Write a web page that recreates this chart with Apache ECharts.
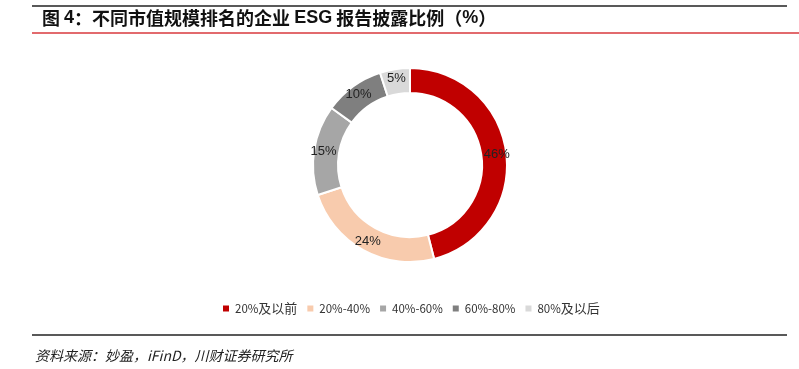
<!DOCTYPE html>
<html><head><meta charset="utf-8">
<script src="https://cdn.jsdelivr.net/npm/echarts@6/dist/echarts.min.js"></script>
<style>html,body{margin:0;padding:0;background:#fff}#c{width:799px;height:369px}</style>
</head><body><div id="c"></div>
<script>
var categories = ['20%及以前', '20%-40%', '40%-60%', '60%-80%', '80%及以后'];
var values = [46, 24, 15, 10, 5];
var colors = ['#C00000', '#F8CBAD', '#A6A6A6', '#7F7F7F', '#D9D9D9'];
var titleText = '{c|图 }{b|4}{c|：不同市值规模排名的企业 }{b|ESG}{c| 报告披露比例（}{b|%}{c|）}';
var sourceText = '资料来源：妙盈，iFinD，川财证券研究所';

function richName(name) {
  var out = '', cur = '', curAscii = null;
  for (var i = 0; i < name.length; i++) {
    var ch = name[i];
    var a = ch.charCodeAt(0) < 128;
    if (curAscii !== null && a !== curAscii) {
      out += '{' + (curAscii ? 'a' : 'h') + '|' + cur + '}';
      cur = '';
    }
    cur += ch; curAscii = a;
  }
  if (cur) out += '{' + (curAscii ? 'a' : 'h') + '|' + cur + '}';
  return out;
}

var chart = echarts.init(document.getElementById('c'));
chart.setOption({
  animation: false,
  color: colors,
  legend: {
    data: categories,
    left: 216,
    top: 297,
    icon: 'rect',
    itemWidth: 8,
    itemHeight: 8,
    itemGap: 8,
    formatter: richName,
    textStyle: {
      fontSize: 12, color: '#333', fontFamily: 'Noto Sans CJK SC',
      rich: {
        a: { fontSize: 11.5, color: '#333', fontFamily: 'Noto Sans CJK SC' },
        h: { fontSize: 13, color: '#333', fontFamily: 'Noto Sans CJK SC' }
      }
    }
  },
  graphic: [
    { type: 'line', shape: { x1: 32, y1: 6, x2: 787, y2: 6 }, style: { stroke: '#222', lineWidth: 1.5 } },
    { type: 'line', shape: { x1: 32, y1: 33, x2: 799, y2: 33 }, style: { stroke: '#D9393C', lineWidth: 1.5 } },
    { type: 'line', shape: { x1: 32, y1: 335, x2: 787, y2: 335 }, style: { stroke: '#222', lineWidth: 1.5 } },
    { type: 'text', left: 42, top: 9, style: {
        text: titleText,
        rich: {
          c: { fontSize: 18, fill: '#111', fontWeight: 'bold', fontFamily: 'Noto Sans CJK SC' },
          b: { fontSize: 18, fill: '#111', fontWeight: 'bold', fontFamily: 'Liberation Sans, Arial' }
        } } },
    { type: 'text', left: 35, top: 349, style: { text: sourceText, fontSize: 14, fontStyle: 'italic', fill: '#222', fontFamily: 'Noto Sans CJK SC' } }
  ],
  series: [{
    type: 'pie',
    center: [410, 165],
    radius: [72, 97],
    startAngle: 90,
    clockwise: true,
    avoidLabelOverlap: false,
    itemStyle: { borderColor: '#fff', borderWidth: 2 },
    label: {
      show: true,
      position: 'inside',
      formatter: '{c}%',
      fontSize: 13,
      color: '#222',
      fontFamily: 'Liberation Sans, Arial'
    },
    labelLine: { show: false },
    data: categories.map(function (n, i) { return { name: n, value: values[i] }; })
  }]
});
</script></body></html>
